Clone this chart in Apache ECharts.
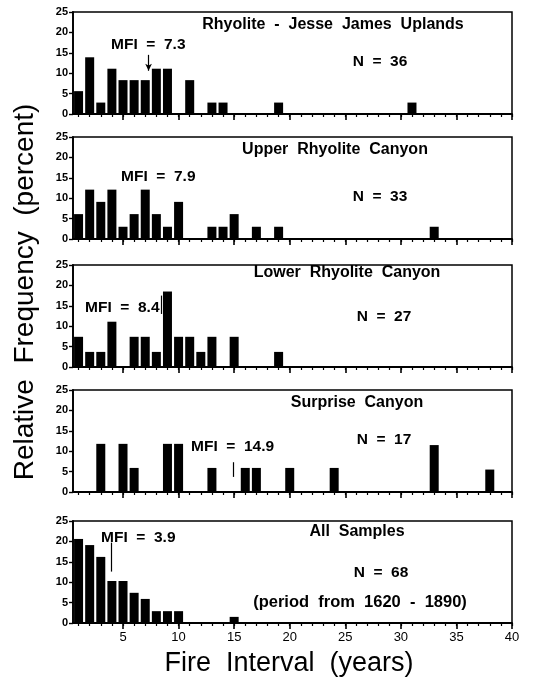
<!DOCTYPE html>
<html>
<head>
<meta charset="utf-8">
<script src="https://cdn.jsdelivr.net/npm/echarts@6/dist/echarts.min.js"></script>
<style>
html,body{margin:0;padding:0;background:#fff;}
#chart{width:535px;height:682px;}
</style>
</head>
<body>
<div id="chart"></div>
<script>
// ---- data (percent of fire intervals by interval length in years) ----
const jjuYears   = [1, 2, 3, 4, 5, 6, 7, 8, 9, 11, 13, 14, 19, 31];
const jjuPercent = [5.6, 13.9, 2.8, 11.1, 8.3, 8.3, 8.3, 11.1, 11.1, 8.3, 2.8, 2.8, 2.8, 2.8];

const urcYears   = [1, 2, 3, 4, 5, 6, 7, 8, 9, 10, 13, 14, 15, 17, 19, 33];
const urcPercent = [6.1, 12.1, 9.1, 12.1, 3.0, 6.1, 12.1, 6.1, 3.0, 9.1, 3.0, 3.0, 6.1, 3.0, 3.0, 3.0];

const lrcYears   = [1, 2, 3, 4, 6, 7, 8, 9, 10, 11, 12, 13, 15, 19];
const lrcPercent = [7.4, 3.7, 3.7, 11.1, 7.4, 7.4, 3.7, 18.5, 7.4, 7.4, 3.7, 7.4, 7.4, 3.7];

const scYears    = [3, 5, 6, 9, 10, 13, 16, 17, 20, 24, 33, 38];
const scPercent  = [11.8, 11.8, 5.9, 11.8, 11.8, 5.9, 5.9, 5.9, 5.9, 5.9, 11.5, 5.5];

const allYears   = [1, 2, 3, 4, 5, 6, 7, 8, 9, 10, 15];
const allPercent = [20.6, 19.1, 16.2, 10.3, 10.3, 7.4, 5.9, 2.9, 2.9, 2.9, 1.5];

const panelTitles = ['Rhyolite  -  Jesse  James  Uplands', 'Upper  Rhyolite  Canyon', 'Lower  Rhyolite  Canyon', 'Surprise  Canyon', 'All  Samples'];
const sampleN = [36, 33, 27, 17, 68];
const mfiValues = [7.3, 7.9, 8.4, 14.9, 3.9];
const xTickLabels = [5, 10, 15, 20, 25, 30, 35, 40];
const xMinorTicks = [1,2,3,4,5,6,7,8,9,10,11,12,13,14,15,16,17,18,19,20,21,22,23,24,25,26,27,28,29,30,31,32,33,34,35,36,37,38,39,40];
const yTickLabels = [0, 5, 10, 15, 20, 25];
const periodNote = '(period  from  1620  -  1890)';
const xTitle = 'Fire  Interval  (years)';
const yTitle = 'Relative  Frequency  (percent)';

// ---- layout ----
const FONT = '"Liberation Sans", Arial, Helvetica, sans-serif';
const panelYears = [jjuYears, urcYears, lrcYears, scYears, allYears];
const panelPercent = [jjuPercent, urcPercent, lrcPercent, scPercent, allPercent];
const gridTops = [12, 137, 265, 390, 521];
const gridH = 102;
// MFI marker extents (in percent units) and whether it has an arrow
const mfiMarks = [[14.5, 10.6, true], null, [17.5, 13.0, false], [7.3, 3.7, false], [19.7, 12.6, false]];
// annotation text positions
const titlePos = [[333, 25], [335, 150], [347, 273], [357, 403], [357, 532]];
const mfiPos   = [[111, 45], [121, 177], [85, 308], [191, 447], [101, 538]];
const nPos     = [[380, 62], [380, 197], [384, 317], [384, 440], [381, 573]];

const grids = [], xAxes = [], yAxes = [], series = [], graphics = [];

for (let i = 0; i < 5; i++) {
  grids.push({left: 73, right: 23, top: gridTops[i], height: gridH, show: true,
    borderColor: '#000', borderWidth: 1.5, backgroundColor: 'transparent'});
  xAxes.push({
    gridIndex: i, type: 'value', min: 0.5, max: 40, position: 'bottom',
    axisLine: {show: true, onZero: false, lineStyle: {color: '#000', width: 1.8}},
    axisTick: {show: true, customValues: xMinorTicks, length: 3, lineStyle: {color: '#000', width: 1.2}},
    axisLabel: {show: false},
    splitLine: {show: false}
  });
  xAxes.push({
    gridIndex: i, type: 'value', min: 0.5, max: 40, position: 'bottom',
    axisLine: {show: false, onZero: false},
    axisTick: {show: true, customValues: xTickLabels, length: 6, lineStyle: {color: '#000', width: 1.6}},
    axisLabel: {show: i === 4, customValues: xTickLabels, color: '#000', fontSize: 13,
      fontFamily: FONT, margin: 8},
    splitLine: {show: false}
  });
  yAxes.push({
    gridIndex: i, type: 'value', min: 0, max: 25, interval: 5,
    axisLine: {show: true, lineStyle: {color: '#000', width: 1.8}},
    axisTick: {show: true, length: 4, lineStyle: {color: '#000', width: 1.4}},
    axisLabel: {color: '#000', fontSize: 11, fontWeight: 'bold', fontFamily: FONT, margin: 5},
    splitLine: {show: false}
  });
  const data = panelYears[i].map((x, k) => [x, panelPercent[i][k]]);
  const s = {
    type: 'bar', xAxisIndex: 2 * i, yAxisIndex: i, data: data, barWidth: 9,
    itemStyle: {color: '#000'}, animation: false, silent: true
  };
  const mk = mfiMarks[i];
  if (mk) {
    s.markLine = {
      silent: true, animation: false,
      symbol: ['none', mk[2] ? 'arrow' : 'none'], symbolSize: [5, 7],
      label: {show: false},
      lineStyle: {color: '#000', width: 1.2, type: 'solid'},
      data: [[{coord: [mfiValues[i], mk[0]]}, {coord: [mfiValues[i], mk[1]]}]]
    };
  }
  series.push(s);

  graphics.push({type: 'text', x: titlePos[i][0], y: titlePos[i][1],
    style: {text: panelTitles[i], fill: '#000', font: 'bold 16px ' + FONT, align: 'center', verticalAlign: 'middle'}});
  graphics.push({type: 'text', x: mfiPos[i][0], y: mfiPos[i][1],
    style: {text: 'MFI  =  ' + mfiValues[i], fill: '#000', font: 'bold 15.5px ' + FONT, align: 'left', verticalAlign: 'middle'}});
  graphics.push({type: 'text', x: nPos[i][0], y: nPos[i][1],
    style: {text: 'N  =  ' + sampleN[i], fill: '#000', font: 'bold 15.5px ' + FONT, align: 'center', verticalAlign: 'middle'}});
}
graphics.push({type: 'text', x: 360, y: 602,
  style: {text: periodNote, fill: '#000', font: 'bold 16.5px ' + FONT, align: 'center', verticalAlign: 'middle'}});
graphics.push({type: 'text', x: 289, y: 664,
  style: {text: xTitle, fill: '#000', font: '27px ' + FONT, align: 'center', verticalAlign: 'middle'}});
graphics.push({type: 'text', x: 25, y: 292, rotation: Math.PI / 2,
  style: {text: yTitle, fill: '#000', font: '28px ' + FONT, align: 'center', verticalAlign: 'middle'}});

const chart = echarts.init(document.getElementById('chart'), null, {renderer: 'canvas'});
chart.setOption({
  animation: false,
  backgroundColor: '#fff',
  grid: grids, xAxis: xAxes, yAxis: yAxes, series: series, graphic: graphics
});
</script>
</body>
</html>
